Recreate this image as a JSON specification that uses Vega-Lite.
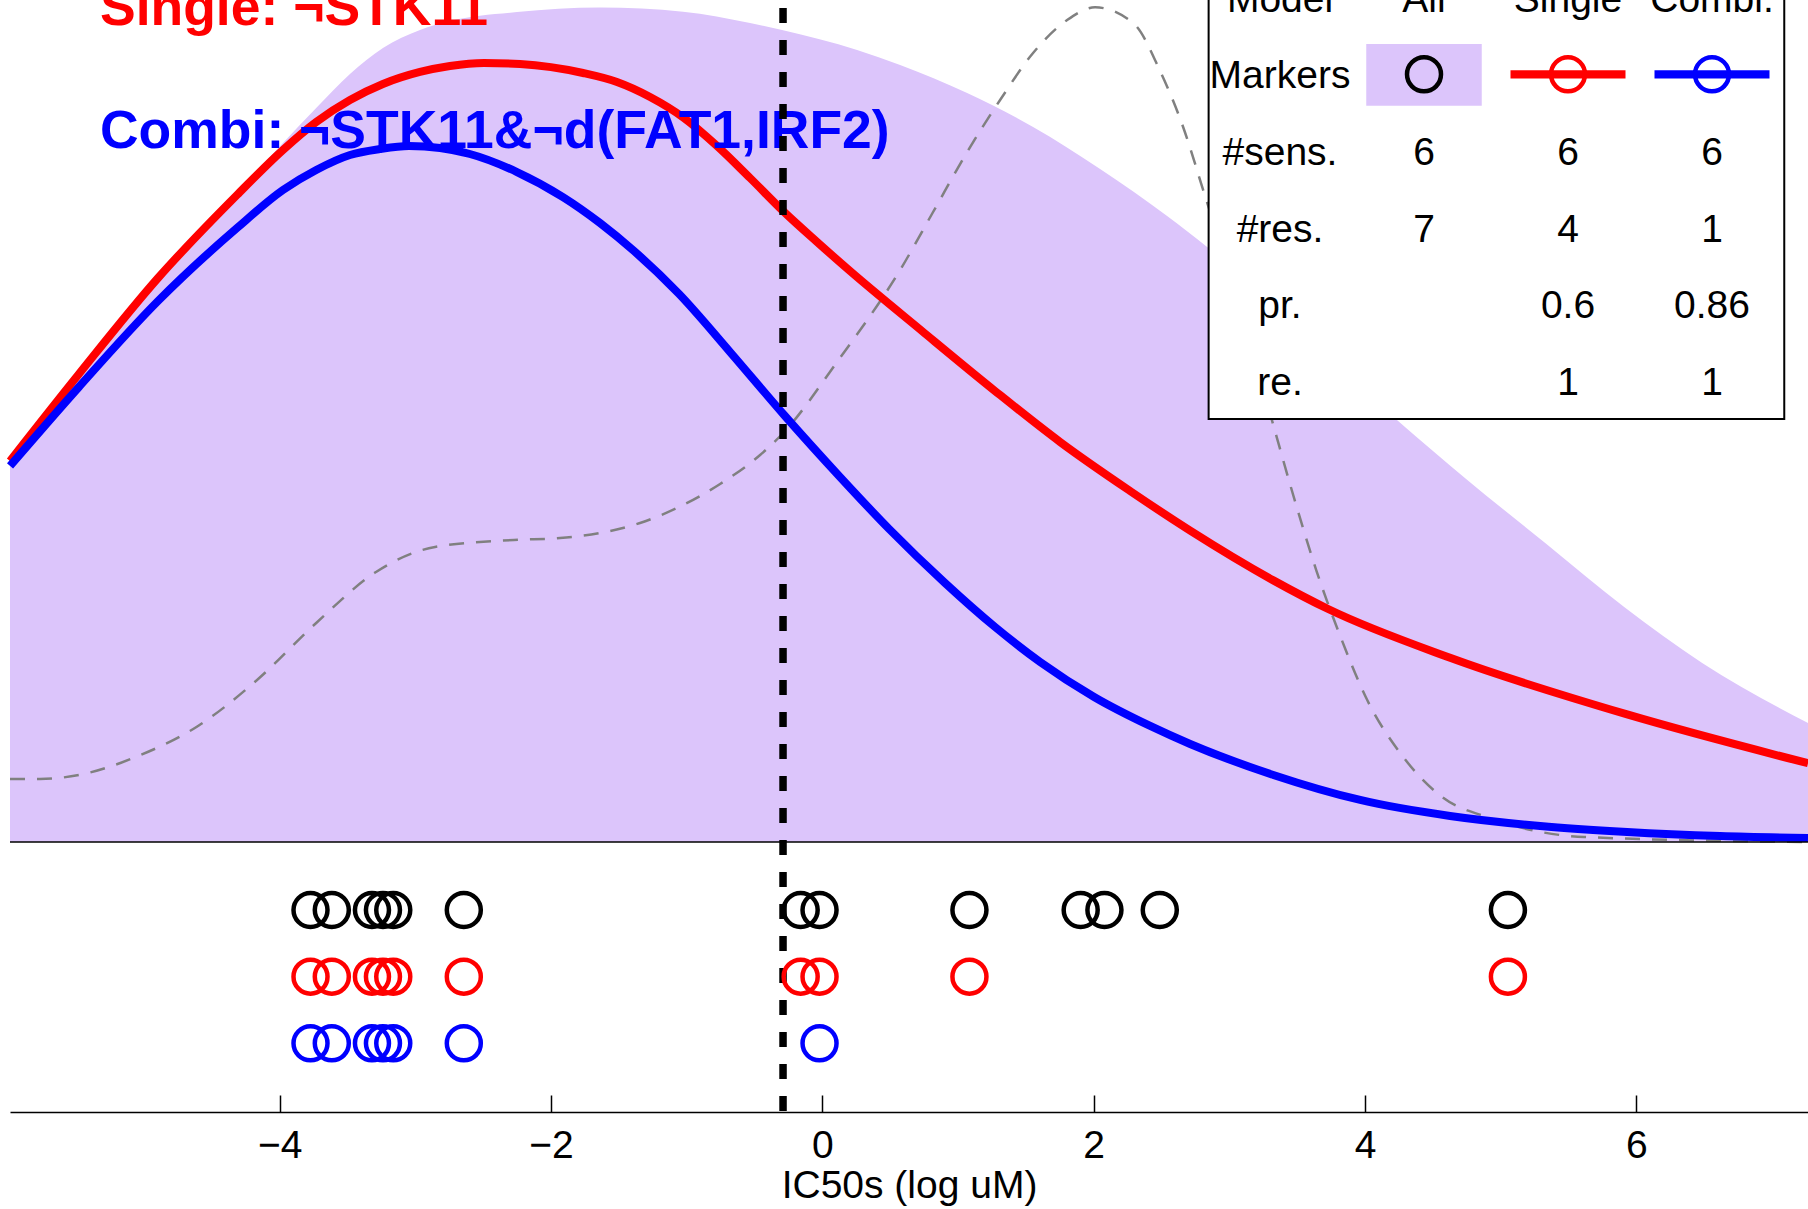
{
  "$schema": "https://vega.github.io/schema/vega-lite/v6.json",
  "width": 1798,
  "height": 1112,
  "autosize": {"type": "none"},
  "padding": {"left": 10, "top": 0, "right": 0, "bottom": 97},
  "background": "white",
  "config": {"view": {"stroke": null}, "font": "Liberation Sans"},
  "data": {"values": [{}]},
  "datasets": {
    "curves": [
      {"s":"All","v":-5.988,"d":0.04501},{"s":"All","v":-5.480,"d":0.05511},{"s":"All","v":-4.897,"d":0.06639},{"s":"All","v":-4.315,"d":0.07708},{"s":"All","v":-3.976,"d":0.08302},{"s":"All","v":-3.731,"d":0.08717},{"s":"All","v":-3.482,"d":0.09121},{"s":"All","v":-3.239,"d":0.09430},{"s":"All","v":-2.966,"d":0.09644},{"s":"All","v":-2.745,"d":0.09751},{"s":"All","v":-2.251,"d":0.09857},{"s":"All","v":-1.639,"d":0.09911},{"s":"All","v":-1.027,"d":0.09861},{"s":"All","v":-0.533,"d":0.09727},{"s":"All","v":-0.297,"d":0.09644},{"s":"All","v":0.256,"d":0.09406},{"s":"All","v":0.573,"d":0.09228},{"s":"All","v":1.067,"d":0.08895},{"s":"All","v":1.553,"d":0.08492},{"s":"All","v":2.047,"d":0.07993},{"s":"All","v":2.541,"d":0.07435},{"s":"All","v":2.836,"d":0.07067},{"s":"All","v":3.522,"d":0.06057},{"s":"All","v":4.252,"d":0.04988},{"s":"All","v":4.745,"d":0.04311},{"s":"All","v":5.328,"d":0.03551},{"s":"All","v":5.910,"d":0.02791},{"s":"All","v":6.485,"d":0.02126},{"s":"All","v":7.265,"d":0.01413},
      {"s":"Single","v":-5.988,"d":0.04525},{"s":"Single","v":-5.480,"d":0.05558},{"s":"Single","v":-4.897,"d":0.06698},{"s":"Single","v":-4.315,"d":0.07684},{"s":"Single","v":-3.976,"d":0.08219},{"s":"Single","v":-3.731,"d":0.08551},{"s":"Single","v":-3.482,"d":0.08812},{"s":"Single","v":-3.239,"d":0.09002},{"s":"Single","v":-2.966,"d":0.09145},{"s":"Single","v":-2.745,"d":0.09216},{"s":"Single","v":-2.494,"d":0.09252},{"s":"Single","v":-2.229,"d":0.09240},{"s":"Single","v":-1.764,"d":0.09133},{"s":"Single","v":-1.514,"d":0.09026},{"s":"Single","v":-1.270,"d":0.08848},{"s":"Single","v":-1.020,"d":0.08599},{"s":"Single","v":-0.776,"d":0.08266},{"s":"Single","v":-0.533,"d":0.07886},{"s":"Single","v":-0.282,"d":0.07482},{"s":"Single","v":-0.039,"d":0.07126},{"s":"Single","v":0.204,"d":0.06781},{"s":"Single","v":0.734,"d":0.06069},{"s":"Single","v":1.273,"d":0.05356},{"s":"Single","v":1.752,"d":0.04751},{"s":"Single","v":2.268,"d":0.04169},{"s":"Single","v":2.711,"d":0.03698},{"s":"Single","v":3.324,"d":0.03107},{"s":"Single","v":3.728,"d":0.02767},{"s":"Single","v":4.627,"d":0.02188},{"s":"Single","v":5.932,"d":0.01515},{"s":"Single","v":7.265,"d":0.00935},
      {"s":"Combi.","v":-5.988,"d":0.04466},{"s":"Combi.","v":-5.480,"d":0.05404},{"s":"Combi.","v":-4.897,"d":0.06425},{"s":"Combi.","v":-4.315,"d":0.07292},{"s":"Combi.","v":-3.976,"d":0.07743},{"s":"Combi.","v":-3.731,"d":0.07981},{"s":"Combi.","v":-3.482,"d":0.08159},{"s":"Combi.","v":-3.261,"d":0.08230},{"s":"Combi.","v":-3.047,"d":0.08266},{"s":"Combi.","v":-2.818,"d":0.08242},{"s":"Combi.","v":-2.598,"d":0.08171},{"s":"Combi.","v":-2.251,"d":0.07957},{"s":"Combi.","v":-1.912,"d":0.07660},{"s":"Combi.","v":-1.639,"d":0.07352},{"s":"Combi.","v":-1.388,"d":0.07019},{"s":"Combi.","v":-1.056,"d":0.06508},{"s":"Combi.","v":-0.680,"d":0.05819},{"s":"Combi.","v":-0.282,"d":0.05071},{"s":"Combi.","v":0.130,"d":0.04335},{"s":"Combi.","v":0.492,"d":0.03717},{"s":"Combi.","v":0.904,"d":0.03076},{"s":"Combi.","v":1.273,"d":0.02553},{"s":"Combi.","v":1.605,"d":0.02138},{"s":"Combi.","v":2.003,"d":0.01722},{"s":"Combi.","v":2.416,"d":0.01378},{"s":"Combi.","v":2.711,"d":0.01164},{"s":"Combi.","v":3.324,"d":0.00796},{"s":"Combi.","v":3.964,"d":0.00499},{"s":"Combi.","v":4.627,"d":0.00309},{"s":"Combi.","v":5.291,"d":0.00190},{"s":"Combi.","v":5.932,"d":0.00119},{"s":"Combi.","v":6.618,"d":0.00071},{"s":"Combi.","v":7.265,"d":0.00048},
      {"s":"Background","v":-5.988,"d":0.00748},{"s":"Background","v":-5.767,"d":0.00748},{"s":"Background","v":-5.480,"d":0.00796},{"s":"Background","v":-5.044,"d":0.01021},{"s":"Background","v":-4.602,"d":0.01378},{"s":"Background","v":-4.167,"d":0.01924},{"s":"Background","v":-3.731,"d":0.02601},{"s":"Background","v":-3.290,"d":0.03207},{"s":"Background","v":-2.855,"d":0.03504},{"s":"Background","v":-2.273,"d":0.03587},{"s":"Background","v":-1.934,"d":0.03610},{"s":"Background","v":-1.639,"d":0.03670},{"s":"Background","v":-1.344,"d":0.03789},{"s":"Background","v":-1.056,"d":0.03979},{"s":"Background","v":-0.754,"d":0.04252},{"s":"Background","v":-0.459,"d":0.04596},{"s":"Background","v":-0.282,"d":0.04869},{"s":"Background","v":0.108,"d":0.05701},{"s":"Background","v":0.573,"d":0.06793},{"s":"Background","v":0.816,"d":0.07482},{"s":"Background","v":1.067,"d":0.08195},{"s":"Background","v":1.310,"d":0.08812},{"s":"Background","v":1.553,"d":0.09371},{"s":"Background","v":1.804,"d":0.09762},{"s":"Background","v":2.010,"d":0.09913},{"s":"Background","v":2.298,"d":0.09715},{"s":"Background","v":2.489,"d":0.09157},{"s":"Background","v":2.659,"d":0.08492},{"s":"Background","v":2.807,"d":0.07743},{"s":"Background","v":3.007,"d":0.06710},{"s":"Background","v":3.154,"d":0.05903},{"s":"Background","v":3.309,"d":0.05036},{"s":"Background","v":3.466,"d":0.04145},{"s":"Background","v":3.640,"d":0.03230},{"s":"Background","v":3.817,"d":0.02447},{"s":"Background","v":4.016,"d":0.01686},{"s":"Background","v":4.281,"d":0.01010},{"s":"Background","v":4.568,"d":0.00534},{"s":"Background","v":4.919,"d":0.00285},{"s":"Background","v":5.615,"d":0.00059},{"s":"Background","v":7.265,"d":0.0}
    ],
    "points": [
      {"model":"All","v":-3.773},{"model":"All","v":-3.616},{"model":"All","v":-3.320},{"model":"All","v":-3.239},{"model":"All","v":-3.163},{"model":"All","v":-2.643},{"model":"All","v":-0.160},{"model":"All","v":-0.021},{"model":"All","v":1.084},{"model":"All","v":1.904},{"model":"All","v":2.079},{"model":"All","v":2.487},{"model":"All","v":5.053},
      {"model":"Single","v":-3.773},{"model":"Single","v":-3.616},{"model":"Single","v":-3.320},{"model":"Single","v":-3.239},{"model":"Single","v":-3.163},{"model":"Single","v":-2.643},{"model":"Single","v":-0.160},{"model":"Single","v":-0.021},{"model":"Single","v":1.084},{"model":"Single","v":5.053},
      {"model":"Combi.","v":-3.773},{"model":"Combi.","v":-3.616},{"model":"Combi.","v":-3.320},{"model":"Combi.","v":-3.239},{"model":"Combi.","v":-3.163},{"model":"Combi.","v":-2.643},{"model":"Combi.","v":-0.021}
    ],
    "table": [
      {"row":"Model","col":"Label","label":"Model"},{"row":"Model","col":"All","label":"All"},{"row":"Model","col":"Single","label":"Single"},{"row":"Model","col":"Combi.","label":"Combi."},
      {"row":"Markers","col":"Label","label":"Markers"},
      {"row":"#sens.","col":"Label","label":"#sens."},{"row":"#sens.","col":"All","label":"6"},{"row":"#sens.","col":"Single","label":"6"},{"row":"#sens.","col":"Combi.","label":"6"},
      {"row":"#res.","col":"Label","label":"#res."},{"row":"#res.","col":"All","label":"7"},{"row":"#res.","col":"Single","label":"4"},{"row":"#res.","col":"Combi.","label":"1"},
      {"row":"pr.","col":"Label","label":"pr."},{"row":"pr.","col":"Single","label":"0.6"},{"row":"pr.","col":"Combi.","label":"0.86"},
      {"row":"re.","col":"Label","label":"re."},{"row":"re.","col":"Single","label":"1"},{"row":"re.","col":"Combi.","label":"1"}
    ],
    "keys": [
      {"row":"Markers","col":"All"},{"row":"Markers","col":"Single"},{"row":"Markers","col":"Combi."}
    ]
  },
  "layer": [
    {
      "layer": [
        {
          "layer": [
            {
              "data": {"name": "curves"},
              "transform": [{"filter": "datum.s === 'All'"}],
              "mark": {"type": "area", "color": "#dcc5fb", "opacity": 1, "interpolate": "monotone"},
              "encoding": {
                "x": {"field": "v", "type": "quantitative", "scale": {"domain": [-5.988, 7.265], "nice": false, "zero": false},
                  "axis": {"title": "IC50s (log uM)", "values": [-4, -2, 0, 2, 4, 6], "format": "d", "grid": false,
                    "tickSize": -17, "tickColor": "black", "tickWidth": 1.5, "domainColor": "black", "domainWidth": 1.5,
                    "labelFont": "Liberation Sans", "labelFontSize": 39, "labelColor": "black", "labelPadding": 31, "labelFlush": false, "labelOverlap": false,
                    "titleFont": "Liberation Sans", "titleFontSize": 39, "titleFontWeight": "normal", "titleColor": "black", "titleBaseline": "alphabetic", "titleY": 85}},
                "y": {"field": "d", "type": "quantitative", "scale": {"domain": [-0.03207, 0.1], "nice": false, "zero": false}, "axis": null},
                "y2": {"datum": 0}
              }
            },
            {
              "data": {"name": "curves"},
              "transform": [{"filter": "datum.s === 'Background'"}],
              "mark": {"type": "line", "color": "#808080", "strokeWidth": 2.5, "strokeDash": [15, 12], "interpolate": "monotone"},
              "encoding": {"x": {"field": "v", "type": "quantitative"}, "y": {"field": "d", "type": "quantitative"}}
            },
            {
              "data": {"name": "curves"},
              "transform": [{"filter": "datum.s === 'Single'"}],
              "mark": {"type": "line", "color": "#ff0000", "strokeWidth": 8, "interpolate": "monotone"},
              "encoding": {"x": {"field": "v", "type": "quantitative"}, "y": {"field": "d", "type": "quantitative"}}
            },
            {
              "data": {"name": "curves"},
              "transform": [{"filter": "datum.s === 'Combi.'"}],
              "mark": {"type": "line", "color": "#0000ff", "strokeWidth": 8, "interpolate": "monotone"},
              "encoding": {"x": {"field": "v", "type": "quantitative"}, "y": {"field": "d", "type": "quantitative"}}
            },
            {
              "mark": {"type": "rule", "color": "black", "strokeWidth": 1.5},
              "encoding": {"y": {"datum": 0}}
            },
            {
              "mark": {"type": "text", "font": "Liberation Sans", "fontSize": 53.5, "fontWeight": "bold", "align": "left", "baseline": "alphabetic", "color": "#ff0000"},
              "encoding": {"x": {"datum": -5.325}, "y": {"datum": 0.09703}, "text": {"value": "Single: ¬STK11"}}
            },
            {
              "mark": {"type": "text", "font": "Liberation Sans", "fontSize": 53.5, "fontWeight": "bold", "align": "left", "baseline": "alphabetic", "color": "#0000ff"},
              "encoding": {"x": {"datum": -5.325}, "y": {"datum": 0.08239}, "text": {"value": "Combi: ¬STK11&¬d(FAT1,IRF2)"}}
            },
            {
              "mark": {"type": "rule", "color": "black", "strokeWidth": 7.5, "strokeDash": [15, 17], "strokeDashOffset": 24},
              "encoding": {"x": {"datum": -0.29}}
            },
            {
              "mark": {"type": "rect", "fill": "white", "stroke": "black", "strokeWidth": 2},
              "encoding": {"x": {"datum": 2.847}, "x2": {"datum": 7.09}, "y": {"datum": 0.11}, "y2": {"datum": 0.05024}}
            }
          ]
        },
        {
          "data": {"name": "points"},
          "mark": {"type": "point", "shape": "circle", "filled": false, "size": 1156, "strokeWidth": 4.5, "opacity": 1},
          "encoding": {
            "x": {"field": "v", "type": "quantitative"},
            "y": {"field": "model", "type": "nominal", "scale": {"type": "point", "domain": ["All", "Single", "Combi."], "range": [910, 1043.3], "padding": 0}, "axis": null},
            "stroke": {"field": "model", "type": "nominal", "scale": {"domain": ["All", "Single", "Combi."], "range": ["black", "#ff0000", "#0000ff"]}, "legend": null}
          }
        }
      ],
      "resolve": {"scale": {"y": "independent"}}
    },
    {
      "layer": [
        {
          "data": {"name": "keys"},
          "transform": [{"filter": "datum.col === 'All'"}],
          "mark": {"type": "point", "shape": "M-1,-0.534H1V0.534H-1Z", "filled": true, "fill": "#dcc5fb", "strokeWidth": 0, "size": 13340, "opacity": 1, "yOffset": -13.4},
          "encoding": {
            "x": {"field": "col", "type": "nominal", "scale": {"type": "point", "domain": ["Label", "All", "Single", "Combi."], "range": [1270, 1702], "padding": 0}, "axis": null},
            "y": {"field": "row", "type": "nominal", "scale": {"type": "point", "domain": ["Model", "Markers", "#sens.", "#res.", "pr.", "re."], "range": [11.6, 395], "padding": 0}, "axis": null}
          }
        },
        {
          "data": {"name": "keys"},
          "transform": [{"filter": "datum.col !== 'All'"}],
          "mark": {"type": "point", "shape": "stroke", "filled": false, "size": 13225, "strokeWidth": 8.3, "opacity": 1, "yOffset": -14},
          "encoding": {
            "x": {"field": "col", "type": "nominal"},
            "y": {"field": "row", "type": "nominal"},
            "stroke": {"field": "col", "type": "nominal", "scale": {"domain": ["All", "Single", "Combi."], "range": ["black", "#ff0000", "#0000ff"]}, "legend": null}
          }
        },
        {
          "data": {"name": "keys"},
          "mark": {"type": "point", "shape": "circle", "filled": false, "size": 1156, "strokeWidth": 4.5, "opacity": 1, "yOffset": -14},
          "encoding": {
            "x": {"field": "col", "type": "nominal"},
            "y": {"field": "row", "type": "nominal"},
            "stroke": {"field": "col", "type": "nominal", "scale": {"domain": ["All", "Single", "Combi."], "range": ["black", "#ff0000", "#0000ff"]}, "legend": null}
          }
        },
        {
          "data": {"name": "table"},
          "mark": {"type": "text", "font": "Liberation Sans", "fontSize": 39, "align": "center", "baseline": "alphabetic", "color": "black"},
          "encoding": {
            "x": {"field": "col", "type": "nominal"},
            "y": {"field": "row", "type": "nominal"},
            "text": {"field": "label", "type": "nominal"}
          }
        }
      ]
    }
  ],
  "resolve": {"scale": {"x": "independent", "y": "independent"}}
}
